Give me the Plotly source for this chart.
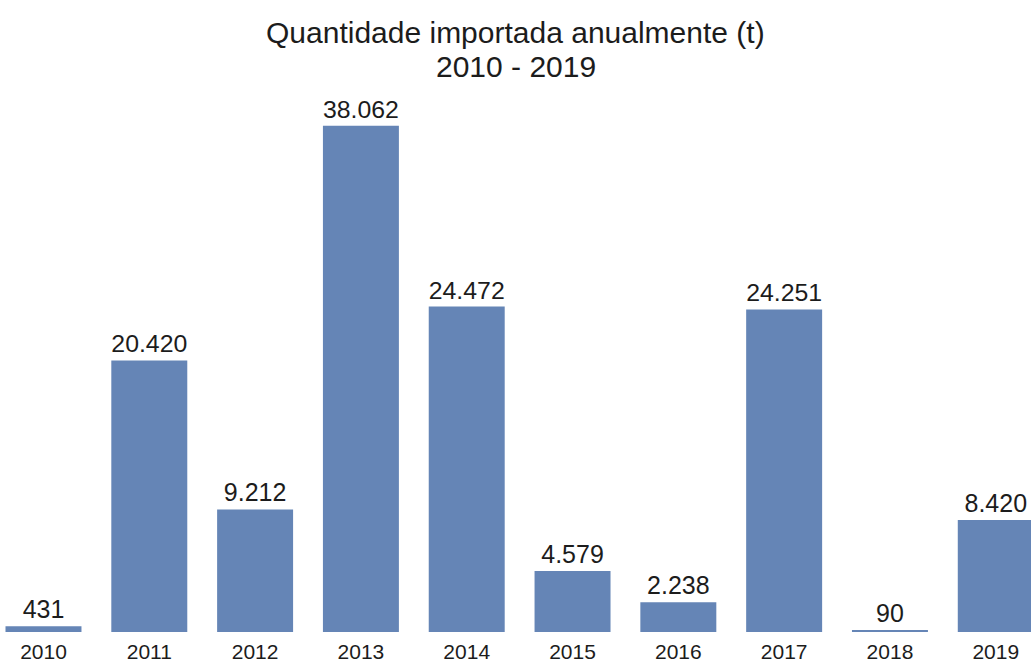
import plotly.graph_objects as go

# Annual imported quantity (tonnes)
years = ["2010", "2011", "2012", "2013", "2014", "2015", "2016", "2017", "2018", "2019"]
quantities = [431, 20420, 9212, 38062, 24472, 4579, 2238, 24251, 90, 8420]

title_line1 = "Quantidade importada anualmente (t)"
title_line2 = "2010 - 2019"

BAR_COLOR = "#6585b6"
TEXT_COLOR = "#1c1c1c"
FONT = "Liberation Sans, Arial, Helvetica, sans-serif"

fig = go.Figure(
    go.Bar(
        x=years,
        y=quantities,
        marker=dict(color=BAR_COLOR, line=dict(width=0)),
        texttemplate="%{y:,.0f}",
        textposition="outside",
        textfont=dict(size=25, color=TEXT_COLOR, family=FONT),
        cliponaxis=False,
        hoverinfo="x+y",
    )
)

fig.update_layout(
    width=1031,
    height=666,
    separators=",.",
    paper_bgcolor="white",
    plot_bgcolor="white",
    margin=dict(l=0, r=0, t=100, b=34, autoexpand=False),
    bargap=0.282,
    showlegend=False,
    font=dict(family=FONT, color=TEXT_COLOR),
    xaxis=dict(
        type="category",
        range=[-0.411, 9.333],
        showgrid=False,
        showline=False,
        zeroline=False,
        ticks="",
        ticklabelstandoff=5,
        automargin=False,
        tickfont=dict(size=21, color=TEXT_COLOR),
        fixedrange=True,
    ),
    yaxis=dict(
        range=[0, 40000],
        visible=False,
        showgrid=False,
        zeroline=False,
        automargin=False,
        fixedrange=True,
    ),
    annotations=[
        dict(text=title_line1, xref="paper", yref="paper", x=0.5, y=1.1278,
             xanchor="center", yanchor="middle", showarrow=False,
             font=dict(size=30, color=TEXT_COLOR, family=FONT)),
        dict(text=title_line2, xref="paper", yref="paper", x=0.5, y=1.0639,
             xanchor="center", yanchor="middle", showarrow=False,
             font=dict(size=30, color=TEXT_COLOR, family=FONT)),
    ],
)

fig.write_html("out.html")
